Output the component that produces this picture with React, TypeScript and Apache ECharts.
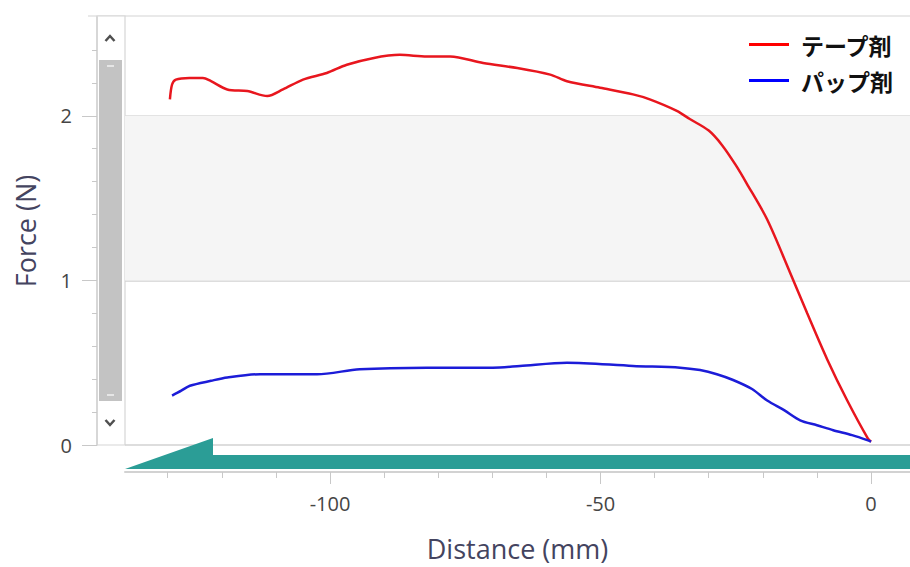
import React, { useEffect, useRef } from "react";
import * as echarts from "echarts";

const seriesNames = ["テープ剤", "パップ剤"];

const tapeDistance = [-129.6, -129.2, -128.5, -126, -123.5, -122, -119, -115.3, -111.6, -108.7, -105, -100.6, -96.9, -92.1, -87.1, -82.1, -77.8, -71.7, -65.4, -59.3, -56.2, -50.1, -44, -40.9, -35.9, -33.5, -30, -27.5, -25, -23, -19.2, -15, -11.8, -8.1, -4.4, -0.6, 0];
const tapeForce = [2.1, 2.19, 2.22, 2.23, 2.23, 2.21, 2.16, 2.15, 2.12, 2.16, 2.22, 2.26, 2.31, 2.35, 2.37, 2.36, 2.36, 2.32, 2.29, 2.25, 2.21, 2.17, 2.13, 2.1, 2.03, 1.98, 1.91, 1.82, 1.7, 1.59, 1.37, 1.05, 0.8, 0.52, 0.27, 0.04, 0.02];

const papDistance = [-129.2, -127.5, -125.9, -122, -119, -112.9, -102.4, -94.5, -82.1, -69.9, -64.9, -56.2, -44, -35.3, -31.6, -28.5, -25.5, -22, -19.2, -16, -13.1, -10, -7, -3.5, -0.7, 0];
const papForce = [0.3, 0.33, 0.36, 0.39, 0.41, 0.43, 0.43, 0.46, 0.47, 0.47, 0.48, 0.5, 0.48, 0.47, 0.455, 0.43, 0.395, 0.34, 0.27, 0.21, 0.15, 0.12, 0.09, 0.06, 0.03, 0.02];

const xMajorTicks = [-100, -50, 0];
const xMinorTicks = [-130, -120, -110, -90, -80, -70, -60, -40, -30, -20, -10];
const yMajorTicks = [0, 1, 2];
const yMinorTicks = [0.2, 0.4, 0.6, 0.8, 1.2, 1.4, 1.6, 1.8, 2.2, 2.4];

const axisTitleColor = "#44445f";
const labelColor = "#454545";
const lineGray = "#d2d2d2";

export default function App() {
  const ref = useRef<HTMLDivElement>(null);
  useEffect(() => {
    const chart = echarts.init(ref.current!, null, { renderer: "svg" });
    const zip = (xs: number[], ys: number[]) => xs.map((x, i) => [x, ys[i]]);
    chart.setOption({
      animation: false,
      backgroundColor: "#ffffff",
      grid: { left: 125, right: 0, top: 17, bottom: 122 },
      legend: {
        orient: "vertical",
        right: 12,
        top: 28,
        icon: "rect",
        itemWidth: 40,
        itemHeight: 3,
        itemGap: 13,
        textStyle: {
          fontFamily: "Noto Sans CJK JP",
          fontWeight: "bold",
          fontSize: 23,
          color: "#111",
          padding: [0, 0, 0, 7],
        },
        data: seriesNames,
      },
      xAxis: [
        {
          type: "value",
          min: -137.9,
          max: 7.2,
          offset: 27,
          name: "Distance (mm)",
          nameLocation: "middle",
          nameGap: 63,
          nameTextStyle: { fontFamily: "Open Sans", fontSize: 27, color: axisTitleColor },
          axisLine: { show: true, onZero: false, lineStyle: { color: lineGray, width: 2 } },
          axisTick: { show: true, customValues: xMajorTicks, length: 12, lineStyle: { color: "#c8c8c8" } },
          axisLabel: { customValues: xMajorTicks, margin: 21, fontFamily: "Open Sans", fontSize: 20, color: labelColor },
          splitLine: { show: false },
        },
        {
          type: "value",
          min: -137.9,
          max: 7.2,
          offset: 27,
          position: "bottom",
          axisLine: { show: false, onZero: false },
          axisTick: { show: true, customValues: xMinorTicks, length: 6, lineStyle: { color: "#c8c8c8" } },
          axisLabel: { show: false },
          splitLine: { show: false },
        },
      ],
      yAxis: [
        {
          type: "value",
          min: 0,
          max: 2.6,
          interval: 1,
          offset: 28,
          name: "Force (N)",
          nameLocation: "middle",
          nameGap: 58,
          nameTextStyle: { fontFamily: "Open Sans", fontSize: 27, color: axisTitleColor },
          axisLine: { show: true, onZero: false, lineStyle: { color: lineGray, width: 1.5 } },
          axisTick: { show: true, customValues: yMajorTicks, length: 15, lineStyle: { color: "#c8c8c8" } },
          axisLabel: { customValues: yMajorTicks, margin: 25, fontFamily: "Open Sans", fontSize: 20, color: labelColor },
          splitLine: { show: true, lineStyle: { color: lineGray, width: 1.5 } },
        },
        {
          type: "value",
          min: 0,
          max: 2.6,
          offset: 28,
          position: "left",
          axisLine: { show: false, onZero: false },
          axisTick: { show: true, customValues: yMinorTicks, length: 5, lineStyle: { color: "#c8c8c8" } },
          axisLabel: { show: false },
          splitLine: { show: false },
        },
      ],
      series: [
        {
          name: seriesNames[0],
          type: "line",
          data: zip(tapeDistance, tapeForce),
          symbol: "none",
          smooth: 0.3,
          lineStyle: { color: "#e8161e", width: 2.5 },
          itemStyle: { color: "#ff0000" },
          z: 5,
          markArea: {
            silent: true,
            itemStyle: { color: "#f5f5f5" },
            data: [[{ yAxis: 1 }, { yAxis: 2 }]],
          },
        },
        {
          name: seriesNames[1],
          type: "line",
          data: zip(papDistance, papForce),
          symbol: "none",
          smooth: 0.3,
          lineStyle: { color: "#1c1cd8", width: 2.5 },
          itemStyle: { color: "#0000ff" },
          z: 5,
        },
      ],
      graphic: [
        { type: "line", shape: { x1: 88, y1: 16, x2: 910, y2: 16 }, style: { stroke: "#e2e2e2", lineWidth: 1.5 } },
        { type: "rect", shape: { x: 97, y: 16, width: 28, height: 429 }, style: { fill: "#ffffff", stroke: "#d6d6d6", lineWidth: 1.2 } },
        { type: "rect", shape: { x: 99, y: 60, width: 23, height: 341 }, style: { fill: "#c3c3c3" } },
        { type: "line", shape: { x1: 107, y1: 66, x2: 114, y2: 66 }, style: { stroke: "#f2f2f2", lineWidth: 1.5 } },
        { type: "line", shape: { x1: 107, y1: 395, x2: 114, y2: 395 }, style: { stroke: "#f2f2f2", lineWidth: 1.5 } },
        { type: "polyline", shape: { points: [[105.5, 41], [110, 36], [114.5, 41]] }, style: { stroke: "#505050", lineWidth: 2.5, fill: "none" } },
        { type: "polyline", shape: { points: [[105.5, 420], [110, 425], [114.5, 420]] }, style: { stroke: "#505050", lineWidth: 2.5, fill: "none" } },
        {
          type: "polygon",
          shape: { points: [[125, 469], [213, 438], [213, 455], [910, 455], [910, 469]] },
          style: { fill: "#2b9d96" },
          z: 10,
        },
      ],
    });
    return () => chart.dispose();
  }, []);
  return <div ref={ref} style={{ position: "fixed", left: 0, top: 0, width: 910, height: 567 }} />;
}
